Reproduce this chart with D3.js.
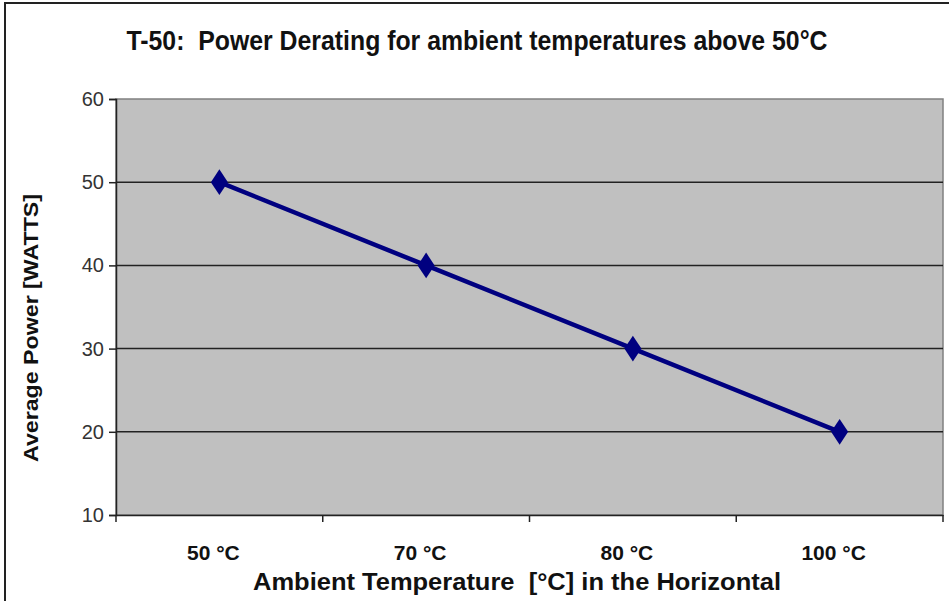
<!DOCTYPE html>
<html>
<head>
<meta charset="utf-8">
<script src="https://cdn.jsdelivr.net/npm/d3@7"></script>
<style>
  body { margin: 0; background: #fff; }
  text { white-space: pre; }
  .narrow { font-family: "Liberation Sans", Arial, sans-serif; font-weight: bold; }
</style>
</head>
<body>
<svg id="chart"></svg>
<script>
let categories = ["50 °C", "70 °C", "80 °C", "100 °C"];
let powerValues = [50, 40, 30, 20];
let yTicks = [10, 20, 30, 40, 50, 60];

let W = 949, H = 601;
let margin = {top: 99, right: 6, bottom: 86, left: 116},
    width = W - margin.left - margin.right,
    height = H - margin.top - margin.bottom;

let root = d3.select("#chart")
    .attr("width", W)
    .attr("height", H);

// outer frame
root.append("rect")
    .attr("x", 5).attr("y", 3)
    .attr("width", W + 10).attr("height", H + 10)
    .attr("fill", "#fff")
    .attr("stroke", "#222")
    .attr("stroke-width", 2);

root.append("text")
    .attr("class", "narrow")
    .attr("x", 477).attr("y", 50)
    .attr("text-anchor", "middle")
    .attr("font-size", 27)
    .attr("textLength", 701)
    .attr("lengthAdjust", "spacingAndGlyphs")
    .attr("fill", "#111")
    .text("T-50:  Power Derating for ambient temperatures above 50°C");

let svg = root.append("g")
    .attr("transform", "translate(" + margin.left + "," + margin.top + ")");

let x = d3.scaleBand()
    .domain(categories)
    .range([0, width]);

let y = d3.scaleLinear()
    .domain([10, 60])
    .range([height, 0]);

svg.append("rect")
    .attr("width", width)
    .attr("height", height)
    .attr("fill", "#c0c0c0")
    .attr("stroke", "#808080")
    .attr("stroke-width", 1.5);

// gridlines
svg.selectAll(".grid")
    .data(yTicks.filter(d => d > 10 && d < 60))
    .enter()
    .append("line")
    .attr("x1", 0).attr("x2", width)
    .attr("y1", d => y(d)).attr("y2", d => y(d))
    .attr("stroke", "#222")
    .attr("stroke-width", 1.5);

// y axis
let yAxis = svg.append("g")
    .call(d3.axisLeft(y).tickValues(yTicks).tickSize(7).tickPadding(5));
yAxis.select(".domain").attr("stroke", "#222").attr("stroke-width", 1.5);
yAxis.selectAll(".tick line").attr("stroke", "#222").attr("stroke-width", 1.5);
yAxis.selectAll("text")
    .attr("font-family", "Liberation Sans, Arial, sans-serif")
    .attr("font-size", 20)
    .attr("fill", "#333");

// x axis with boundary ticks
let xAxis = svg.append("g")
    .attr("transform", "translate(0," + height + ")")
    .call(d3.axisBottom(x).tickSize(0).tickPadding(30));
xAxis.select(".domain").attr("stroke", "#222").attr("stroke-width", 1.5);
xAxis.selectAll("text")
    .attr("class", "narrow")
    .attr("font-size", 21)
    .attr("dx", -6)
    .attr("fill", "#111");

let boundaries = categories.map(c => x(c)).concat([width]);
xAxis.selectAll(".bound")
    .data(boundaries)
    .enter()
    .append("line")
    .attr("x1", d => d).attr("x2", d => d)
    .attr("y1", 0).attr("y2", 7)
    .attr("stroke", "#222")
    .attr("stroke-width", 1.5);

// line series
let line = d3.line()
    .x((d, i) => x(categories[i]) + x.bandwidth() / 2)
    .y(d => y(d));

svg.append("path")
    .datum(powerValues)
    .attr("d", line)
    .attr("fill", "none")
    .attr("stroke", "#000080")
    .attr("stroke-width", 4.5);

svg.selectAll(".marker")
    .data(powerValues)
    .enter()
    .append("path")
    .attr("d", d3.symbol().type(d3.symbolDiamond).size(190))
    .attr("transform", (d, i) => "translate(" + (x(categories[i]) + x.bandwidth() / 2) + "," + y(d) + ") scale(1.15,1)")
    .attr("fill", "#000080");

// axis titles
root.append("text")
    .attr("class", "narrow")
    .attr("x", 517).attr("y", 590)
    .attr("text-anchor", "middle")
    .attr("font-size", 24)
    .attr("textLength", 528)
    .attr("lengthAdjust", "spacingAndGlyphs")
    .attr("fill", "#111")
    .text("Ambient Temperature  [°C] in the Horizontal");

root.append("text")
    .attr("class", "narrow")
    .attr("transform", "translate(38,328) rotate(-90)")
    .attr("text-anchor", "middle")
    .attr("font-size", 21)
    .attr("textLength", 268)
    .attr("lengthAdjust", "spacingAndGlyphs")
    .attr("fill", "#111")
    .text("Average Power [WATTS]");
</script>
</body>
</html>
